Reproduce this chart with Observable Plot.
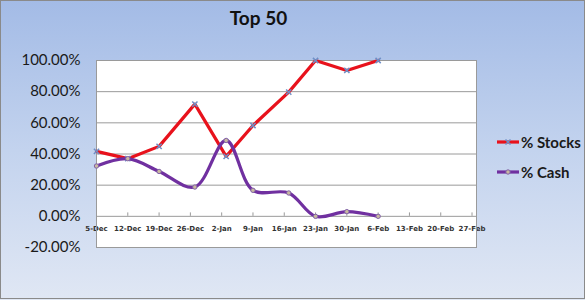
<!DOCTYPE html>
<html>
<head>
<meta charset="utf-8">
<script src="https://cdn.jsdelivr.net/npm/d3@7"></script>
<script src="https://cdn.jsdelivr.net/npm/@observablehq/plot@0.6"></script>
<style>
  html, body { margin: 0; padding: 0; background: #fff; }
  #chart {
    position: relative; width: 585px; height: 300px; overflow: hidden;
    background: linear-gradient(to bottom, #a3bbe6 0%, #c3d3ee 50%, #e0e7f4 100%);
    font-family: Lato, "Open Sans", sans-serif;
  }
  #frame { position: absolute; left: 0; top: 0; width: 583px; height: 297px; border: 1px solid #8a8a8a; pointer-events: none; }
  #title { position: absolute; left: 0; width: 517px; top: 6px; text-align: center; font-weight: bold; font-size: 19px; color: #111; }
  #plot { position: absolute; left: 0; top: 0; }
  .leg { position: absolute; left: 496px; display: flex; align-items: center; font-size: 15px; font-weight: bold; color: #1a1a1a; }
  .leg svg { display: block; margin-right: 1px; }
</style>
</head>
<body>
<div id="chart">
  <div id="plot"></div>
  <div id="title">Top 50</div>
  <div class="leg" id="legStocks" style="top:133px"></div>
  <div class="leg" id="legCash" style="top:163px"></div>
  <div id="frame"></div>
</div>
<script>
const dates = ["2010-12-05","2010-12-12","2010-12-19","2010-12-27","2011-01-03","2011-01-09","2011-01-17","2011-01-23","2011-01-30","2011-02-06"];
const stocks = [0.417, 0.37, 0.449, 0.72, 0.385, 0.583, 0.797, 1.0, 0.936, 1.0];
const cash = [0.323, 0.37, 0.288, 0.188, 0.487, 0.167, 0.15, 0.0, 0.03, 0.0];
const tickDates = ["2010-12-05","2010-12-12","2010-12-19","2010-12-26","2011-01-02","2011-01-09","2011-01-16","2011-01-23","2011-01-30","2011-02-06","2011-02-13","2011-02-20","2011-02-27"];
const tickLabels = ["5-Dec","12-Dec","19-Dec","26-Dec","2-Jan","9-Jan","16-Jan","23-Jan","30-Jan","6-Feb","13-Feb","20-Feb","27-Feb"];
const yTicks = [-0.2, 0, 0.2, 0.4, 0.6, 0.8, 1.0];
const seriesNames = ["% Stocks", "% Cash"];

const stockColor = "#e8121c", cashColor = "#7030a0";
const stockData = dates.map((d, i) => ({date: new Date(d), v: stocks[i]}));
const cashData = dates.map((d, i) => ({date: new Date(d), v: cash[i]}));
const ticks = tickDates.map((d, i) => ({date: new Date(d), label: tickLabels[i]}));

const chart = Plot.plot({
  width: 585, height: 300,
  marginLeft: 96, marginRight: 109, marginTop: 60, marginBottom: 53,
  x: {type: "utc", domain: [new Date("2010-12-05"), new Date("2011-02-28")], axis: null},
  y: {domain: [-0.2, 1.0], axis: null},
  style: {background: "transparent", overflow: "visible"},
  marks: [
    Plot.frame({fill: "white", stroke: "none"}),
    Plot.ruleY(yTicks.filter(d => d > 0), {stroke: "#9a9a9a", strokeWidth: 1}),
    Plot.ruleY([0], {stroke: "#9a9a9a", strokeWidth: 1}),
    Plot.ruleX(ticks, {x: "date", y1: 0, y2: 0.022, stroke: "#9a9a9a"}),
    Plot.text(ticks, {x: "date", y: 0, dy: 12, text: "label", fontFamily: "DejaVu Sans", fontWeight: "bold", fontSize: 7, fill: "#333"}),
    Plot.text(yTicks, {y: d => d, frameAnchor: "left", dx: -16, textAnchor: "end",
      text: d => (d * 100).toFixed(2) + "%", fontFamily: "Lato", fontSize: 15, fill: "#1a1a1a"}),
    Plot.frame({stroke: "#9a9a9a"}),
    Plot.line(stockData, {x: "date", y: "v", stroke: stockColor, strokeWidth: 3.2}),
    Plot.dot(stockData, {x: "date", y: "v", symbol: "times", r: 2.5, stroke: "#6f8fc6", strokeWidth: 1.5}),
    Plot.line(cashData, {x: "date", y: "v", stroke: cashColor, strokeWidth: 3.2, curve: "catmull-rom"}),
    Plot.dot(cashData, {x: "date", y: "v", r: 2.2, fill: "#c9b9a0", stroke: "#8060a8", strokeWidth: 1})
  ]
});
document.getElementById("plot").appendChild(chart);

function legendItem(id, name, color, marker) {
  const el = document.getElementById(id);
  const svg = d3.create("svg").attr("width", 24).attr("height", 10);
  svg.append("line").attr("x1", 1).attr("x2", 23).attr("y1", 5).attr("y2", 5)
    .attr("stroke", color).attr("stroke-width", 3.2);
  if (marker === "x") {
    svg.append("path").attr("d", "M9.5,2.5L14.5,7.5M14.5,2.5L9.5,7.5").attr("stroke", "#6f8fc6").attr("stroke-width", 1.5);
  } else {
    svg.append("circle").attr("cx", 12).attr("cy", 5).attr("r", 2.2).attr("fill", "#c9b9a0").attr("stroke", "#8060a8");
  }
  el.appendChild(svg.node());
  const span = document.createElement("span");
  span.textContent = name;
  el.appendChild(span);
}
legendItem("legStocks", seriesNames[0], stockColor, "x");
legendItem("legCash", seriesNames[1], cashColor, "o");
</script>
</body>
</html>
